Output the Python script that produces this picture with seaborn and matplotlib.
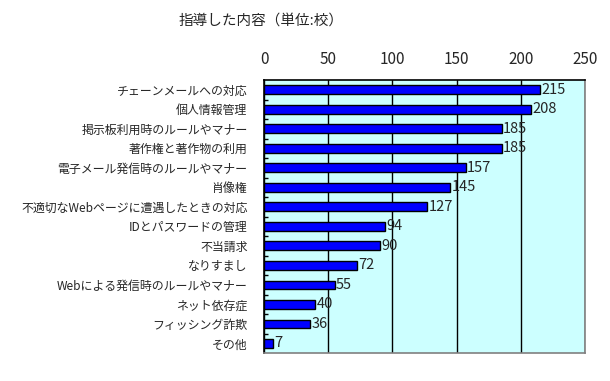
import pandas as pd
import numpy as np
import seaborn as sns
import matplotlib.pyplot as plt

# data
items = ["チェーンメールへの対応", "個人情報管理", "掲示板利用時のルールやマナー",
         "著作権と著作物の利用", "電子メール発信時のルールやマナー", "肖像権",
         "不適切なWebページに遭遇したときの対応", "IDとパスワードの管理", "不当請求",
         "なりすまし", "Webによる発信時のルールやマナー", "ネット依存症",
         "フィッシング詐欺", "その他"]
counts = [215, 208, 185, 185, 157, 145, 127, 94, 90, 72, 55, 40, 36, 7]
xticks = [0, 50, 100, 150, 200, 250]

df = pd.DataFrame({"item": items, "count": counts})

sns.set_style("white")
plt.rcParams['font.family'] = ['Noto Sans CJK JP', 'DejaVu Sans']

fig = plt.figure(figsize=(6.10, 3.81), dpi=100)
ax = fig.add_axes([0.433, 0.073, 0.526, 0.717])
ax.set_facecolor("#CCFFFF")

sns.barplot(x="count", y="item", data=df, color="#0000FF", width=0.45,
            edgecolor="black", linewidth=1, saturation=1, ax=ax)

for i, v in enumerate(counts):
    ax.text(v + 1, i, str(v), va="center", ha="left", fontsize=10.5)

ax.set_xlim(0, 250)
ax.set_ylim(len(items) - 0.5, -0.5)
ax.set_xticks(xticks)
ax.xaxis.tick_top()
ax.tick_params(axis='x', length=0, pad=9, labelsize=11)
ax.grid(axis='x', color='black', linewidth=1)
ax.set_axisbelow(True)
ax.set_xlabel(None)
ax.set_ylabel(None)

# small ticks between categories on the left
ax.set_yticks(np.arange(len(items) - 1) + 0.5, minor=True)
ax.tick_params(axis='y', which='major', length=0, pad=12, labelsize=8.6)
ax.tick_params(axis='y', which='minor', length=3, width=1, color='black', direction='in', left=True)

for side in ['top', 'left']:
    ax.spines[side].set_color('black')
    ax.spines[side].set_linewidth(1.2)
for side in ['right', 'bottom']:
    ax.spines[side].set_color('gray')
    ax.spines[side].set_linewidth(1.2)

fig.text(0.428, 0.945, "指導した内容（単位:校）", ha="center", va="center", fontsize=10.5)

plt.savefig("out.png", dpi=100)
